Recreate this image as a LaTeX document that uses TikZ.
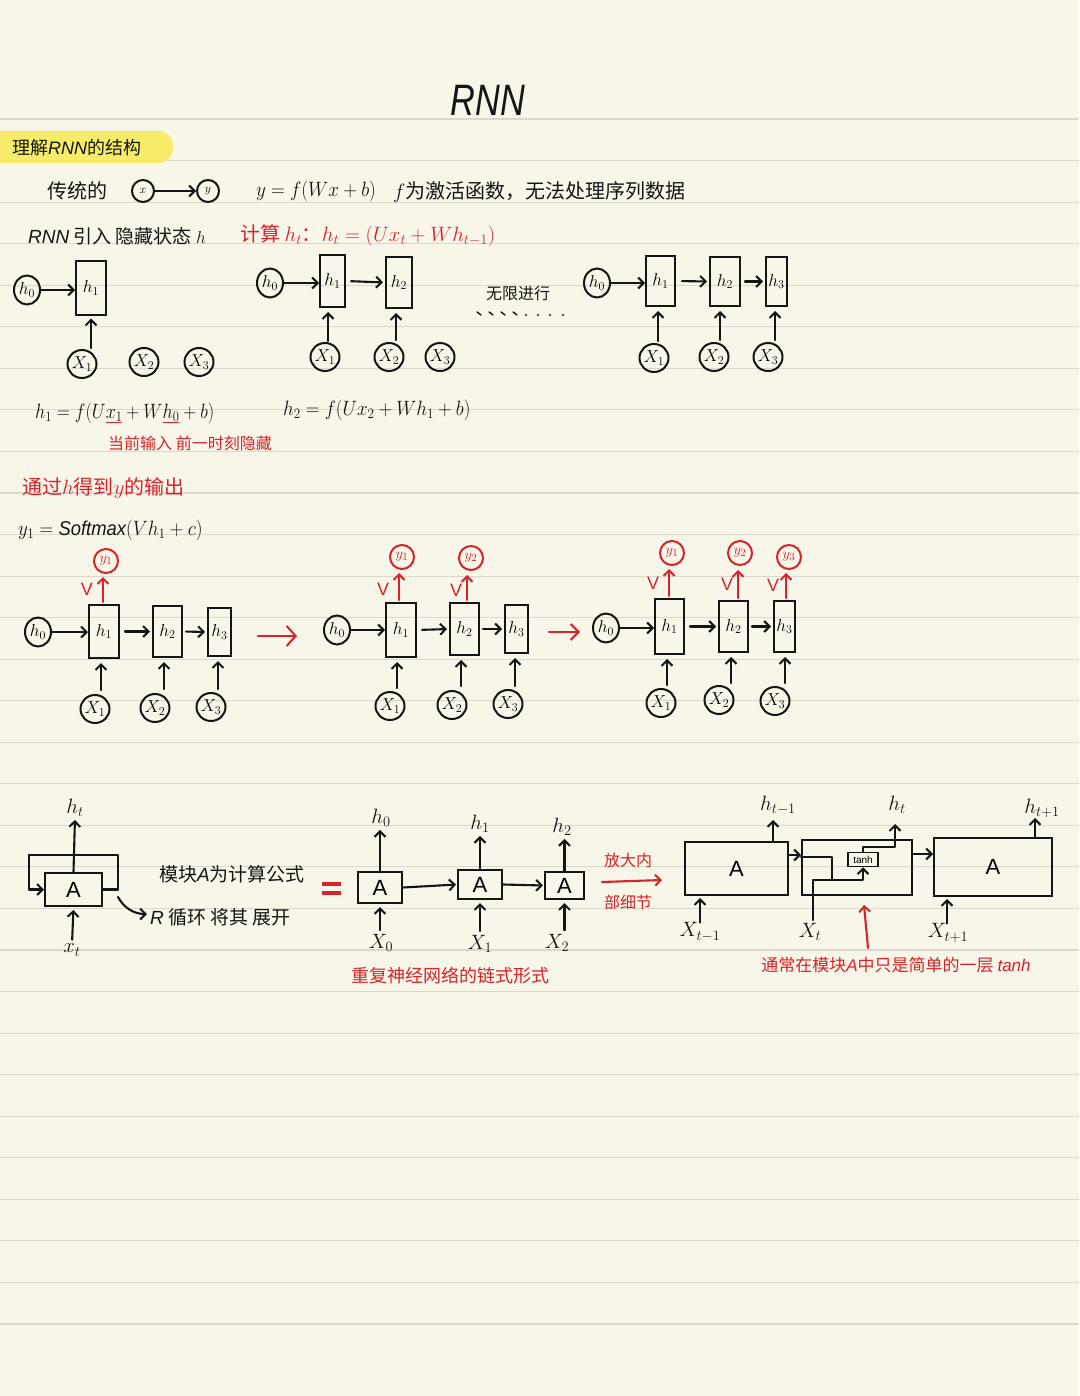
\documentclass[tikz,border=0pt]{standalone}
\usepackage{fontspec}
\setmainfont{Noto Sans CJK SC}
\newfontfamily\lat{Liberation Sans}
\usetikzlibrary{arrows.meta,shapes.geometric}
\definecolor{paper}{HTML}{F8F5E9}
\definecolor{rulec}{HTML}{DAD7CD}
\definecolor{pen}{HTML}{151515}
\definecolor{redpen}{HTML}{D6242A}
\definecolor{hl}{HTML}{F6EC6A}
\tikzset{
  ink/.style={line width=2.1pt, draw=pen, line cap=round, line join=round},
  arr/.style={ink, -{Straight Barb[length=5.5pt,width=11pt,line width=2pt]}},
  rarr/.style={arr, draw=redpen},
  circ/.style={ellipse, draw=pen, line width=2pt, minimum width=29pt, minimum height=28pt, inner sep=0pt, font=\fontsize{17}{18}\selectfont},
  rcirc/.style={circ, draw=redpen, text=redpen, minimum width=24pt, minimum height=24pt, font=\fontsize{15}{16}\selectfont},
  hbox/.style={rectangle, draw=pen, line width=2pt, inner sep=0pt, font=\fontsize{18}{20}\selectfont},
  abox/.style={rectangle, draw=pen, line width=2pt, inner sep=0pt, font=\lat\fontsize{22}{24}\selectfont},
  txt/.style={inner sep=0pt, font=\fontsize{20}{24}\selectfont, text=pen},
  rtxt/.style={txt, text=redpen},
  vlab/.style={inner sep=0pt, font=\lat\fontsize{18}{20}\selectfont, text=redpen},
  lab/.style={inner sep=0pt, font=\fontsize{20}{22}\selectfont, text=pen},
}
\begin{document}
\begin{tikzpicture}[x=1pt,y=-1pt]
\useasboundingbox (0,0) rectangle (1079,1396);
\fill[paper] (0,0) rectangle (1079,1396);
\foreach \k in {0,...,29}{\draw[rulec, line width=1.1pt] (0,{119+41.55*\k}) -- (1079,{119+41.55*\k});}

% title
\node[inner sep=0pt, text=pen] (title) at (488,100) {\scalebox{0.78}[1]{\lat\itshape\fontsize{44}{50}\selectfont RNN}};

% highlight heading
\fill[hl, rounded corners=15pt] (-20,131) rectangle (173,163);
\node[txt, anchor=west, font=\fontsize{18}{22}\selectfont] (head) at (12,148) {理解\textit{\lat RNN}的结构};

% line 2
\node[txt, anchor=west] (trad) at (47,191) {传统的};
\node[circ, minimum width=22pt, minimum height=22pt, font=\fontsize{13}{14}\selectfont] (tx) at (143,191) {$x$};
\node[circ, minimum width=22pt, minimum height=22pt, font=\fontsize{13}{14}\selectfont] (ty) at (208,191) {$y$};
\draw[arr] (tx) -- (ty);
\node[txt] (eq1) at (316,191) {\scalebox{0.92}[1]{$y=f(Wx+b)$}};
\node[txt, anchor=west] (desc1) at (393,192) {$f$为激活函数，无法处理序列数据};

% line 3
\node[txt, anchor=west, font=\fontsize{19}{22}\selectfont] (intro) at (28,236) {\textit{\lat RNN} 引入 隐藏状态 $h$};
\node[rtxt, anchor=west] (calc) at (240,236) {计算 $h_t$：$h_t=(Ux_t+Wh_{t-1})$};

% ---- row 1 left
\node[circ, minimum width=26pt, minimum height=29pt] (aH0) at (27,290) {$h_0$};
\node[hbox, minimum width=30pt, minimum height=53pt] (aH1) at (91,288) {$h_1$};
\draw[arr] (aH0.east) -- (aH0.east -| aH1.west);
\node[circ] (aX1) at (82,364) {$X_1$};
\node[circ] (aX2) at (144,362) {$X_2$};
\node[circ] (aX3) at (199,362) {$X_3$};
\draw[arr, shorten >=3pt] (aH1.south |- 0,348) -- (aH1.south);

% ---- row 1 middle
\node[circ, minimum width=26pt, minimum height=29pt] (bH0) at (270,283) {$h_0$};
\node[hbox, minimum width=25pt, minimum height=52pt] (bH1) at (332.5,281) {$h_1$};
\node[hbox, minimum width=26pt, minimum height=51pt] (bH2) at (399,282.5) {$h_2$};
\draw[arr] (bH0.east) -- (bH0.east -| bH1.west);
\draw[arr, shorten <=5pt, shorten >=2pt] (bH1.east) -- (bH2.west);
\node[circ] (bX1) at (325,357) {$X_1$};
\node[circ] (bX2) at (389,357) {$X_2$};
\node[circ] (bX3) at (440,357) {$X_3$};
\draw[arr, shorten >=4pt] (328,341) -- (bH1.south -| 328,0);
\draw[arr, shorten >=4pt] (396,340) -- (bH2.south -| 396,0);

\node[txt, font=\fontsize{16}{18}\selectfont] (inf) at (518,293) {无限进行};
\foreach \xx in {477,489,501,513}{\draw[ink, line width=1.4pt] (\xx,312) -- (\xx+4,315);}
\foreach \xx in {526,538,550,563}{\fill[pen] (\xx,315) circle[radius=1.2pt];}

% ---- row 1 right
\node[circ, minimum width=26pt, minimum height=29pt] (cH0) at (597,283) {$h_0$};
\node[hbox, minimum width=29pt, minimum height=50pt] (cH1) at (660.5,281) {$h_1$};
\node[hbox, minimum width=30pt, minimum height=49pt] (cH2) at (725,281.5) {$h_2$};
\node[hbox, minimum width=21pt, minimum height=49pt] (cH3) at (776.5,281.5) {$h_3$};
\draw[arr] (cH0.east) -- (cH0.east -| cH1.west);
\draw[arr, shorten <=6pt, shorten >=2pt] (cH1.east) -- (cH2.west);
\draw[arr, shorten <=4pt, shorten >=2pt] (cH2.east) -- (cH3.west);
\node[circ] (cX1) at (654,358) {$X_1$};
\node[circ] (cX2) at (714,357) {$X_2$};
\node[circ] (cX3) at (768,357) {$X_3$};
\draw[arr, shorten >=4pt] (658,341) -- (cH1.south -| 658,0);
\draw[arr, shorten >=4pt] (720,340) -- (cH2.south -| 720,0);
\draw[arr, shorten >=4pt] (775,340) -- (cH3.south -| 775,0);

% formulas
\node[txt, anchor=west] (f1) at (35,413) {\scalebox{0.87}[1]{$h_1=f(U\textcolor{redpen}{\underline{\textcolor{pen}{x_1}}}+W\textcolor{redpen}{\underline{\textcolor{pen}{h_0}}}+b)$}};
\node[rtxt, anchor=west, font=\fontsize{16}{18}\selectfont] (note1) at (108,443) {当前输入 前一时刻隐藏};
\node[txt, anchor=west] (f2) at (283,410) {\scalebox{0.91}[1]{$h_2=f(Ux_2+Wh_1+b)$}};

\node[rtxt, anchor=west] (sec2) at (22,488) {通过$h$得到$y$的输出};
\node[txt, anchor=west] (soft) at (18,530) {\scalebox{0.92}[1]{$y_1=\mbox{\lat\itshape Softmax}(Vh_1+c)$}};

% ---- row 2 A
\node[circ, minimum width=26pt, minimum height=29pt] (dH0) at (38,632) {$h_0$};
\node[hbox, minimum width=30pt, minimum height=53pt] (dH1) at (104,631.5) {$h_1$};
\node[hbox, minimum width=29pt, minimum height=51pt] (dH2) at (167.5,631.5) {$h_2$};
\node[hbox, minimum width=23pt, minimum height=48pt] (dH3) at (219.5,632) {$h_3$};
\draw[arr] (dH0.east) -- (dH0.east -| dH1.west);
\draw[arr, shorten <=5pt, shorten >=2pt] (dH1.east) -- (dH2.west);
\draw[arr, shorten <=3pt, shorten >=2pt] (dH2.east) -- (dH3.west);
\node[rcirc] (dY1) at (106,561) {$y_1$};
\node[vlab] (dV1) at (87,589) {V};
\draw[rarr, shorten <=2pt] (dH1.north -| 103,0) -- (103,577);
\node[circ] (dX1) at (95,709) {$X_1$};
\node[circ] (dX2) at (155,708) {$X_2$};
\node[circ] (dX3) at (211,707) {$X_3$};
\draw[arr, shorten >=4pt] (101,690) -- (dH1.south -| 101,0);
\draw[arr, shorten >=4pt] (164,689) -- (dH2.south -| 164,0);
\draw[arr, shorten >=4pt] (218,689) -- (dH3.south -| 218,0);

\coordinate (r1s) at (258,636); \coordinate (r1e) at (297,636);
\draw[rarr, -{Straight Barb[length=9pt,width=20pt,line width=2pt]}] (r1s) -- (r1e);

% ---- row 2 B
\node[circ, minimum width=26pt, minimum height=29pt] (eH0) at (337,630) {$h_0$};
\node[hbox, minimum width=30pt, minimum height=54pt] (eH1) at (401,630) {$h_1$};
\node[hbox, minimum width=29pt, minimum height=52pt] (eH2) at (464.5,629) {$h_2$};
\node[hbox, minimum width=23pt, minimum height=48pt] (eH3) at (516.5,629) {$h_3$};
\draw[arr] (eH0.east) -- (eH0.east -| eH1.west);
\draw[arr, shorten <=5pt, shorten >=2pt] (eH1.east) -- (eH2.west);
\draw[arr, shorten <=3pt, shorten >=2pt] (eH2.east) -- (eH3.west);
\node[rcirc] (eY1) at (402,557) {$y_1$};
\node[rcirc] (eY2) at (471,558) {$y_2$};
\node[vlab] (eV1) at (383,589) {V};
\node[vlab] (eV2) at (456,590) {V};
\draw[rarr, shorten <=2pt] (eH1.north -| 399,0) -- (399,573);
\draw[rarr, shorten <=2pt] (eH2.north -| 467,0) -- (467,575);
\node[circ] (eX1) at (390,706) {$X_1$};
\node[circ] (eX2) at (452,705) {$X_2$};
\node[circ] (eX3) at (508,704) {$X_3$};
\draw[arr, shorten >=4pt] (397,688) -- (eH1.south -| 397,0);
\draw[arr, shorten >=4pt] (461,686) -- (eH2.south -| 461,0);
\draw[arr, shorten >=4pt] (515,686) -- (eH3.south -| 515,0);

\coordinate (r2s) at (549,632); \coordinate (r2e) at (580,632);
\draw[rarr, -{Straight Barb[length=8pt,width=16pt,line width=2pt]}] (r2s) -- (r2e);

% ---- row 2 C
\node[circ, minimum width=26pt, minimum height=29pt] (fH0) at (606,628) {$h_0$};
\node[hbox, minimum width=29pt, minimum height=55pt] (fH1) at (669.5,626.5) {$h_1$};
\node[hbox, minimum width=29pt, minimum height=51pt] (fH2) at (733.5,626.5) {$h_2$};
\node[hbox, minimum width=21pt, minimum height=51pt] (fH3) at (784.5,626.5) {$h_3$};
\draw[arr] (fH0.east) -- (fH0.east -| fH1.west);
\draw[arr, shorten <=5pt, shorten >=2pt] (fH1.east) -- (fH2.west);
\draw[arr, shorten <=3pt, shorten >=2pt] (fH2.east) -- (fH3.west);
\node[rcirc] (fY1) at (672,553) {$y_1$};
\node[rcirc] (fY2) at (740,553) {$y_2$};
\node[rcirc] (fY3) at (789,557) {$y_3$};
\node[vlab] (fV1) at (653,583) {V};
\node[vlab] (fV2) at (727,584) {V};
\node[vlab] (fV3) at (773,585) {V};
\draw[rarr, shorten <=2pt] (fH1.north -| 669,0) -- (669,569);
\draw[rarr, shorten <=2pt] (fH2.north -| 738,0) -- (738,570);
\draw[rarr, shorten <=2pt] (fH3.north -| 786,0) -- (786,573);
\node[circ] (fX1) at (661,703) {$X_1$};
\node[circ] (fX2) at (719,700) {$X_2$};
\node[circ] (fX3) at (775,701) {$X_3$};
\draw[arr, shorten >=4pt] (667,685) -- (fH1.south -| 667,0);
\draw[arr, shorten >=4pt] (731,683) -- (fH2.south -| 731,0);
\draw[arr, shorten >=4pt] (785,683) -- (fH3.south -| 785,0);

% ---- row 3 left: folded RNN
\node[abox, minimum width=57pt, minimum height=33pt] (gA) at (73.5,889.5) {A};
\coordinate (gLoopL) at (29,855);
\draw[ink] (gA.east) -- (118,889.5) -- (118,855) -- (gLoopL);
\draw[arr] (gLoopL) |- (gA.west);
\node[lab] (gHt) at (75,808) {$h_t$};
\draw[arr, shorten >=3pt] (gA.north) -- (gHt.south);
\node[lab] (gXt) at (72,950) {$x_t$};
\draw[arr, shorten <=4pt, shorten >=3pt] (gXt.north) -- (gA.south);
\coordinate (gC) at (118,897);
\node[txt, anchor=west, font=\fontsize{19}{22}\selectfont] (gR) at (150,917) {\textit{\lat R} 循环 将其 展开};
\draw[arr] (gC) .. controls (124,908) and (134,914) .. (147,914);
\node[txt, font=\fontsize{19}{22}\selectfont] (gMod) at (232,874) {模块\textit{\lat A}为计算公式};

% red equals
\draw[redpen, line width=3.4pt] (322,884) -- (341,884);
\draw[redpen, line width=3.4pt] (322,893) -- (341,893);

% unrolled
\node[abox, minimum width=44pt, minimum height=31pt] (hA0) at (380,887.5) {A};
\node[abox, minimum width=44pt, minimum height=29pt] (hA1) at (480,884.5) {A};
\node[abox, minimum width=39pt, minimum height=27pt] (hA2) at (564.5,885.5) {A};
\draw[arr, shorten >=1pt] (hA0.east) -- (hA1.west);
\draw[arr, shorten >=1pt] (hA1.east) -- (hA2.west);
\node[lab] (hH0) at (381,818) {$h_0$};
\node[lab] (hH1) at (480,824) {$h_1$};
\node[lab] (hH2) at (562,827) {$h_2$};
\draw[arr, shorten >=3pt] (hA0.north) -- (hH0.south -| hA0.north);
\draw[arr, shorten >=3pt] (hA1.north) -- (hH1.south -| hA1.north);
\draw[arr, shorten >=3pt] (hA2.north) -- (hH2.south -| hA2.north);
\node[lab] (hX0) at (381,943) {$X_0$};
\node[lab] (hX1) at (480,944) {$X_1$};
\node[lab] (hX2) at (557,943) {$X_2$};
\draw[arr, shorten <=4pt, shorten >=3pt] (hX0.north -| hA0.south) -- (hA0.south);
\draw[arr, shorten <=4pt, shorten >=3pt] (hX1.north -| hA1.south) -- (hA1.south);
\draw[arr, shorten <=4pt, shorten >=3pt] (hX2.north -| hA2.south) -- (hA2.south);
\node[rtxt, font=\fontsize{18}{22}\selectfont] (chain) at (450,976) {重复神经网络的链式形式};

\node[rtxt, font=\fontsize{16}{18}\selectfont] (zoom1) at (628,860) {放大内};
\node[rtxt, font=\fontsize{16}{18}\selectfont] (zoom2) at (628,902) {部细节};
\coordinate (zs) at (602,882); \coordinate (ze) at (662,880);
\draw[rarr] (zs) -- (ze);

% ---- row 3 right: detail
\node[abox, minimum width=103pt, minimum height=53pt] (iA) at (736.5,868.5) {A};
\node[abox, minimum width=110pt, minimum height=55pt] (iM) at (857,867.5) {};
\node[abox, minimum width=118pt, minimum height=58pt] (iN) at (993,867) {A};
\node[rectangle, draw=pen, line width=1.5pt, inner sep=0pt, minimum width=30pt, minimum height=14pt, font=\lat\fontsize{10}{11}\selectfont] (tanh) at (863,859.5) {tanh};

\node[lab] (iHp) at (778,805) {$h_{t-1}$};
\node[lab] (iHt) at (897,805) {$h_t$};
\node[lab] (iHn) at (1042,808) {$h_{t+1}$};
\node[lab] (iXp) at (700,932) {$X_{t-1}$};
\node[lab] (iXt) at (810,932) {$X_t$};
\node[lab] (iXn) at (948,933) {$X_{t+1}$};

\draw[arr, shorten >=2pt] (iA.north -| 773,0) -- (773,818);
\draw[arr, shorten >=2pt] (iXp.north -| 700,0) -- (iA.south -| 700,0);
\draw[arr] (iA.east |- 0,855) -- (iM.west |- 0,855);
\draw[ink] (iM.west |- 0,857) -- (832,857) -- (832,880);
\draw[arr] (813,920) -- (813,880) -- (863,880) -- (tanh.south);
\draw[arr] (tanh.north) |- (895,847) -- (895,824);
\draw[arr] (iM.east |- 0,854) -- (iN.west |- 0,854);
\draw[arr, shorten >=1pt] (iN.north -| 1035,0) -- (1035,817);
\draw[arr, shorten >=2pt] (iXn.north -| 947,0) -- (iN.south -| 947,0);
\coordinate (rs) at (868,948);
\draw[rarr] (rs) -- (864,905);
\node[rtxt, font=\fontsize{17}{20}\selectfont] (tnote) at (896,965) {通常在模块\textit{\lat A}中只是简单的一层 \textit{\lat tanh}};
\end{tikzpicture}
\end{document}
